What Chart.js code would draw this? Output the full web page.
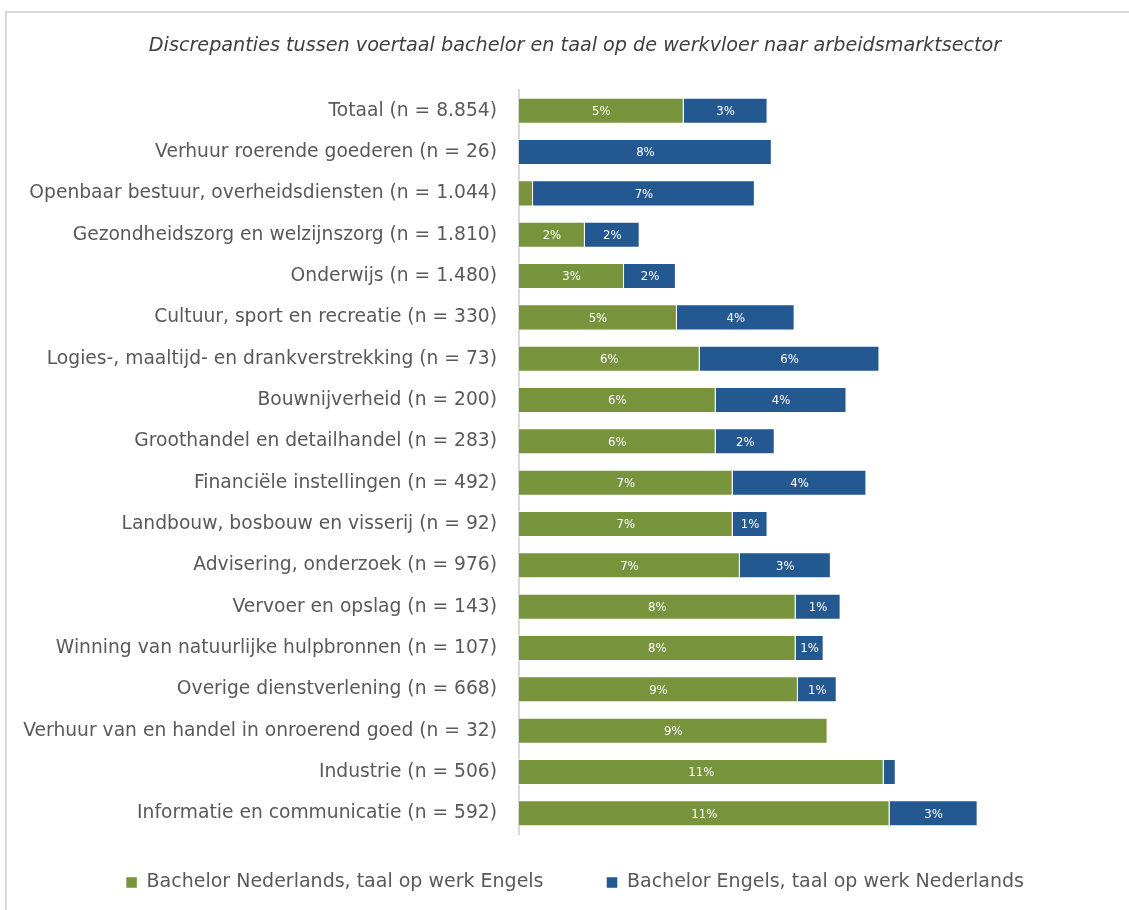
<!DOCTYPE html>
<html>
<head>
<meta charset="utf-8">
<script src="https://cdn.jsdelivr.net/npm/chart.js@4.4.1/dist/chart.umd.min.js"></script>
<style>
    html, body {margin: 0; padding: 0; background: #fff; overflow: hidden;}
    #frame {position: absolute; left: 5px; top: 11px; width: 1200px; height: 1000px; border: 2px solid #d9d9d9;}
    #chart {position: absolute; left: 0; top: 0;}
</style>
</head>
<body>
<div id="frame"></div>
<canvas id="chart" width="1129" height="910"></canvas>
<script>
const sectors = [
    "Totaal (n = 8.854)",
    "Verhuur roerende goederen (n = 26)",
    "Openbaar bestuur, overheidsdiensten (n = 1.044)",
    "Gezondheidszorg en welzijnszorg (n = 1.810)",
    "Onderwijs (n = 1.480)",
    "Cultuur, sport en recreatie (n = 330)",
    "Logies-, maaltijd- en drankverstrekking (n = 73)",
    "Bouwnijverheid (n = 200)",
    "Groothandel en detailhandel (n = 283)",
    "Financiële instellingen (n = 492)",
    "Landbouw, bosbouw en visserij (n = 92)",
    "Advisering, onderzoek (n = 976)",
    "Vervoer en opslag (n = 143)",
    "Winning van natuurlijke hulpbronnen (n = 107)",
    "Overige dienstverlening (n = 668)",
    "Verhuur van en handel in onroerend goed (n = 32)",
    "Industrie (n = 506)",
    "Informatie en communicatie (n = 592)"
];

// percentages
const nlToEngels = [5.05, 0, 0.43, 2.02, 3.22, 4.84, 5.54, 6.03, 6.03, 6.55, 6.55, 6.77, 8.48, 8.48, 8.55, 9.46, 11.18, 11.36];
const enToNederlands = [2.57, 7.75, 6.80, 1.68, 1.59, 3.61, 5.51, 4.01, 1.81, 4.10, 1.07, 2.79, 1.38, 0.86, 1.19, 0, 0.37, 2.70];

const seriesNames = ["Bachelor Nederlands, taal op werk Engels", "Bachelor Engels, taal op werk Nederlands"];

const FONT = "'DejaVu Sans', sans-serif";
const SMALL_FONT = "'DejaVu Sans Condensed', 'DejaVu Sans', sans-serif";

// white percentage labels in the middle of each segment
const barLabels = {
    id: 'barLabels',
    afterDatasetsDraw(chart) {
        const ctx = chart.ctx;
        ctx.save();
        ctx.fillStyle = '#ffffff';
        ctx.font = '13px ' + SMALL_FONT;
        ctx.textAlign = 'center';
        ctx.textBaseline = 'middle';
        chart.data.datasets.forEach((ds, i) => {
            chart.getDatasetMeta(i).data.forEach((bar, j) => {
                const v = Math.round(ds.data[j]);
                if (v < 1) return;
                const p = bar.getProps(['x', 'y', 'base'], true);
                ctx.fillText(v + '%', (p.x + p.base) / 2, p.y + 1);
            });
        });
        ctx.restore();
    }
};

// move legend a bit up, so the gap to the bars is like the original
const legendNudge = {
    id: 'legendNudge',
    afterLayout(chart) {
        chart.legend.top -= 24;
        chart.legend.bottom -= 24;
    }
};

new Chart(document.getElementById('chart'), {
    type: 'bar',
    data: {
        labels: sectors,
        datasets: [
            {
                label: seriesNames[0],
                data: nlToEngels,
                backgroundColor: '#77933c',
                borderColor: 'rgba(255,255,255,0.45)',
                borderWidth: 1,
                barPercentage: 0.63,
                categoryPercentage: 1
            },
            {
                label: seriesNames[1],
                data: enToNederlands,
                backgroundColor: '#245891',
                borderColor: 'rgba(255,255,255,0.45)',
                borderWidth: 1,
                barPercentage: 0.63,
                categoryPercentage: 1
            }
        ]
    },
    options: {
        indexAxis: 'y',
        responsive: false,
        animation: false,
        layout: {padding: {left: 21, right: 0, top: 0, bottom: -16}},
        scales: {
            x: {
                stacked: true,
                display: false,
                min: 0,
                max: 18.7
            },
            y: {
                stacked: true,
                grid: {display: false},
                border: {display: true, color: '#d9d9d9', width: 2},
                ticks: {
                    color: '#595959',
                    padding: 14,
                    font: {family: FONT, size: 18.7}
                },
                afterFit(scale) {
                    scale.width = 498;
                }
            }
        },
        plugins: {
            title: {
                display: true,
                text: 'Discrepanties tussen voertaal bachelor en taal op de werkvloer naar arbeidsmarktsector',
                color: '#404040',
                font: {family: FONT, size: 19.2, style: 'italic', weight: 'normal'},
                padding: {top: 34, bottom: 33}
            },
            legend: {
                position: 'bottom',
                labels: {
                    color: '#595959',
                    boxWidth: 11,
                    boxHeight: 11,
                    padding: 63,
                    font: {family: FONT, size: 19}
                }
            },
            tooltip: {enabled: false}
        }
    },
    plugins: [barLabels, legendNudge]
});
</script>
</body>
</html>
